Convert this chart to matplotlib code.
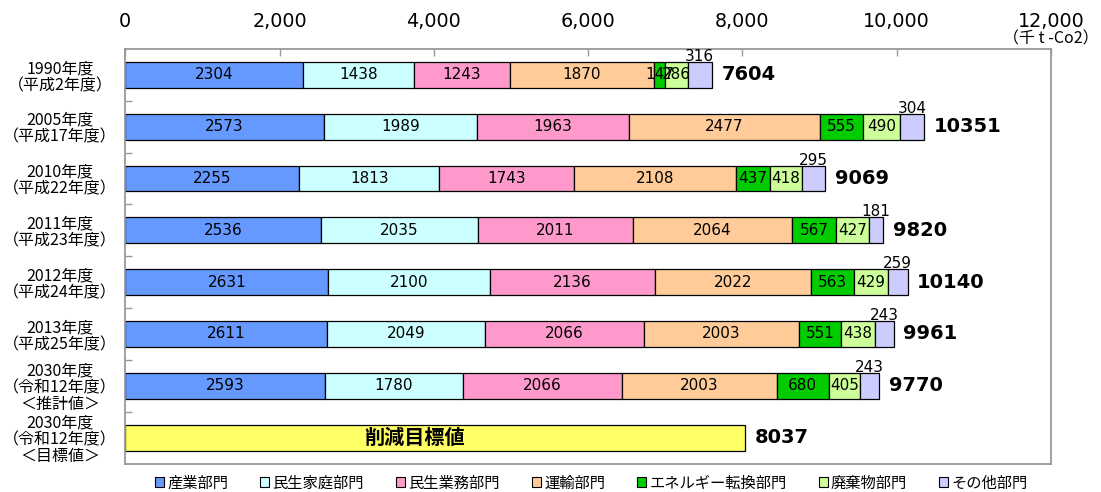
import matplotlib
matplotlib.use("Agg")
import matplotlib.pyplot as plt
from matplotlib.patches import Patch
import numpy as np

plt.rcParams['font.family'] = ['DejaVu Sans', 'Noto Sans CJK JP']
CJK_FIRST = ['Noto Sans CJK JP', 'DejaVu Sans']

categories = [
    "1990年度\n（平成2年度）",
    "2005年度\n（平成17年度）",
    "2010年度\n（平成22年度）",
    "2011年度\n（平成23年度）",
    "2012年度\n（平成24年度）",
    "2013年度\n（平成25年度）",
    "2030年度\n（令和12年度）\n＜推計値＞",
    "2030年度\n（令和12年度）\n＜目標値＞",
]

sectors = ["産業部門", "民生家庭部門", "民生業務部門", "運輸部門",
           "エネルギー転換部門", "廃棄物部門", "その他部門"]
sector_colors = ["#6699FF", "#CCFFFF", "#FF99CC", "#FFCC99",
                 "#00CC00", "#CCFF99", "#CCCCFF"]

# emissions by sector for the first seven rows (千t-CO2)
industry    = [2304, 2573, 2255, 2536, 2631, 2611, 2593]
household   = [1438, 1989, 1813, 2035, 2100, 2049, 1780]
business    = [1243, 1963, 1743, 2011, 2136, 2066, 2066]
transport   = [1870, 2477, 2108, 2064, 2022, 2003, 2003]
energy_conv = [147, 555, 437, 567, 563, 551, 680]
waste       = [286, 490, 418, 427, 429, 438, 405]
other       = [316, 304, 295, 181, 259, 243, 243]
totals      = [7604, 10351, 9069, 9820, 10140, 9961, 9770]

target_value = 8037
target_label = "削減目標値"

xticks = [0, 2000, 4000, 6000, 8000, 10000, 12000]
unit_label = "（千 t -Co2）"

series = [industry, household, business, transport, energy_conv, waste, other]

fig = plt.figure(figsize=(11.01, 4.92), dpi=100)
ax = fig.add_axes([0.1138, 0.0579, 0.8408, 0.8425])

bar_h = 0.5
n = len(industry)
ypos = np.arange(n)
left = np.zeros(n)
for k, (vals, col) in enumerate(zip(series, sector_colors)):
    vals = np.array(vals, dtype=float)
    ax.barh(ypos, vals, left=left, height=bar_h, color=col,
            edgecolor="black", linewidth=0.9, zorder=2)
    for i in range(n):
        cx = left[i] + vals[i] / 2
        if k == len(series) - 1:
            # the thin "other" segment gets its value above the bar
            ax.text(cx, ypos[i] - bar_h / 2 - 0.02, f"{int(vals[i])}",
                    ha="center", va="baseline", fontsize=11, zorder=3)
        else:
            ax.text(cx, ypos[i], f"{int(vals[i])}", ha="center",
                    va="center", fontsize=11, zorder=3)
    left = left + vals

for i in range(n):
    ax.text(left[i] + 125, ypos[i], f"{totals[i]}", ha="left", va="center",
            fontsize=14, fontweight="bold", zorder=3)

# reduction target row
ty = n
ax.barh(ty, target_value, height=bar_h, color="#FFFF66",
        edgecolor="black", linewidth=0.9, zorder=2)
ax.text(target_value * 0.467, ty, target_label, ha="center", va="center",
        fontsize=14.5, fontweight="bold", family=CJK_FIRST, zorder=3)
ax.text(target_value + 125, ty, f"{target_value}", ha="left", va="center",
        fontsize=14, fontweight="bold", zorder=3)

ax.set_xlim(0, 12000)
ax.set_ylim(len(categories) - 0.5, -0.5)

ax.xaxis.tick_top()
ax.set_xticks(xticks)
ax.set_xticklabels([f"{v:,}" for v in xticks], fontsize=13.8)
ax.tick_params(axis="x", direction="in", length=5, width=1, color="#999999",
               pad=13)

ax.set_yticks(np.arange(len(categories)))
ax.set_yticklabels(categories, fontsize=11.5, ha="center", linespacing=1.0,
                   family=CJK_FIRST)
ax.tick_params(axis="y", which="major", length=0, pad=47)
ax.set_yticks(np.arange(len(categories) - 1) + 0.5, minor=True)
ax.tick_params(axis="y", which="minor", direction="in", length=5, width=1,
               color="#999999")

for s in ax.spines.values():
    s.set_color("#999999")
    s.set_linewidth(1.3)

ax.text(12000, 1.025, unit_label, transform=ax.get_xaxis_transform(),
        ha="center", va="center", fontsize=11.5, family=CJK_FIRST)

handles = [Patch(facecolor=c, edgecolor="black", linewidth=0.8) for c in sector_colors]
fig.legend(handles, sectors, loc="center", bbox_to_anchor=(0.537, 0.018),
           ncol=7, frameon=False, handlelength=0.6, handleheight=0.6,
           handletextpad=0.2, columnspacing=2.1,
           prop={"family": CJK_FIRST, "size": 11})

fig.savefig("out.png", dpi=100)
